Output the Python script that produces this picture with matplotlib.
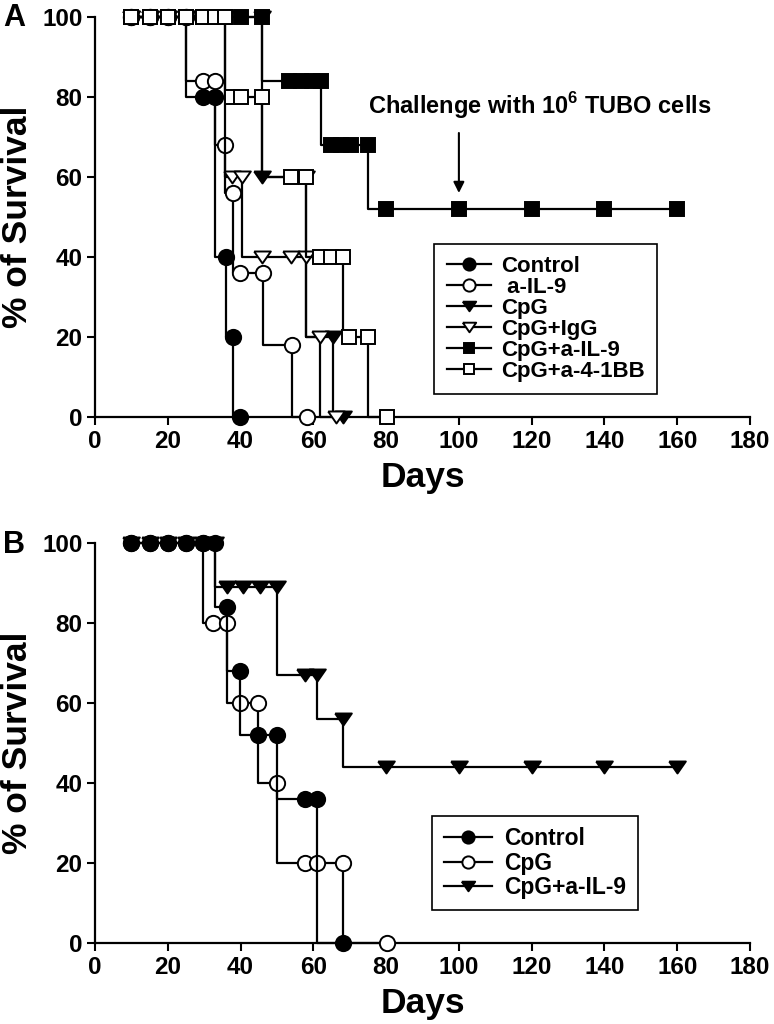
import matplotlib
matplotlib.use("Agg")
import matplotlib.pyplot as plt

plt.rcParams['font.family'] = ['Liberation Sans', 'DejaVu Sans']
plt.rcParams['font.weight'] = 'bold'
plt.rcParams['mathtext.fontset'] = 'custom'
plt.rcParams['mathtext.rm'] = 'Liberation Sans:bold'
plt.rcParams['mathtext.bf'] = 'Liberation Sans:bold'

# ---------------- Panel A data (days, % survival) ----------------
a_control_x = [10, 15, 20, 25, 29.7, 33, 36, 37.9, 39.8]
a_control_y = [100, 100, 100, 100, 80, 80, 40, 20, 0]

a_ail9_x = [10, 15, 20, 25, 29.7, 33, 35.7, 37.9, 39.8, 46.2, 54.1, 58.3]
a_ail9_y = [100, 100, 100, 100, 84, 84, 68, 56, 36, 36, 18, 0]

a_cpg_x = [10, 15, 20, 25, 29.7, 45.9, 45.9, 58.0, 65.4, 68.1]
a_cpg_y = [100, 100, 100, 100, 100, 100, 60, 60, 20, 0]

a_cpgigg_x = [10, 15, 20, 25, 29.7, 35.7, 37.6, 40.4, 45.9, 53.8, 58.0, 61.8, 66.2]
a_cpgigg_y = [100, 100, 100, 100, 100, 100, 60, 60, 40, 40, 40, 20, 0]

a_cpgail9_x = [10, 15, 20, 25, 29.7, 33, 35.7, 40.1, 45.9, 53.4, 56.5, 59.5, 62.0,
               64.8, 67.6, 70.3, 75.0, 80, 100, 120, 140, 160]
a_cpgail9_y = [100, 100, 100, 100, 100, 100, 100, 100, 100, 84, 84, 84, 84,
               68, 68, 68, 68, 52, 52, 52, 52, 52]

a_cpg41bb_x = [10, 15, 20, 25, 29.7, 33, 35.7, 37.6, 40.1, 45.9, 53.8, 58.0,
               61.8, 64.8, 68.1, 69.8, 75.0, 80.2]
a_cpg41bb_y = [100, 100, 100, 100, 100, 100, 100, 80, 80, 80, 60, 60,
               40, 40, 40, 20, 20, 0]

a_labels = ['Control', ' a-IL-9', 'CpG', 'CpG+IgG', 'CpG+a-IL-9', 'CpG+a-4-1BB']

# ---------------- Panel B data ----------------
b_control_x = [10, 15, 20, 25, 29.7, 33, 36.3, 39.8, 44.8, 50, 57.7, 61.1, 68.1]
b_control_y = [100, 100, 100, 100, 100, 100, 84, 68, 52, 52, 36, 36, 0]

b_cpg_x = [10, 15, 20, 25, 29.7, 32.4, 36.3, 39.8, 44.8, 50, 57.7, 61.1, 68.1, 80.2]
b_cpg_y = [100, 100, 100, 100, 100, 80, 80, 60, 60, 40, 20, 20, 20, 0]

b_cpgail9_x = [10, 15, 20, 25, 29.7, 33, 36.3, 40.7, 45.3, 50, 57.7, 61.1, 68.1,
               80, 100, 120, 140, 160]
b_cpgail9_y = [100, 100, 100, 100, 100, 100, 89, 89, 89, 89, 67, 67, 56,
               44, 44, 44, 44, 44]

b_labels = ['Control', 'CpG', 'CpG+a-IL-9']

x_ticks = [0, 20, 40, 60, 80, 100, 120, 140, 160, 180]
y_ticks = [0, 20, 40, 60, 80, 100]

annot_text = r'Challenge with 10$^{6}$ TUBO cells'
annot_day = 100

# ---------------- styles ----------------
tri = [(-1, 0.72), (1, 0.72), (0, -0.72), (-1, 0.72)]
LW = 1.6


def series(ax, x, y, marker, filled, ms, label, z):
    ax.plot(x, y, drawstyle='steps-pre', color='black', lw=LW,
            marker=marker, ms=ms, mfc='black' if filled else 'white',
            mec='black', mew=1.4, label=label, clip_on=False, zorder=z)


def style_axes(ax):
    ax.set_xlim(0, 180)
    ax.set_ylim(0, 100)
    ax.set_xticks(x_ticks)
    ax.set_yticks(y_ticks)
    for s in ['top', 'right']:
        ax.spines[s].set_visible(False)
    for s in ['left', 'bottom']:
        ax.spines[s].set_linewidth(1.6)
    ax.tick_params(direction='out', length=6, width=1.5, labelsize=17.5, pad=3)
    for lab in ax.get_xticklabels() + ax.get_yticklabels():
        lab.set_fontweight('bold')
    ax.set_xlabel('Days', fontsize=25.5, fontweight='bold', labelpad=6)
    ax.set_ylabel('% of Survival', fontsize=25.5, fontweight='bold', labelpad=6)


fig = plt.figure(figsize=(7.74, 10.24), dpi=100)
axA = fig.add_axes([95 / 774, (1024 - 417) / 1024, 655 / 774, 400 / 1024])
axB = fig.add_axes([95 / 774, (1024 - 943) / 1024, 655 / 774, 400 / 1024])

series(axA, a_control_x, a_control_y, 'o', True, 11, a_labels[0], 3)
series(axA, a_ail9_x, a_ail9_y, 'o', False, 11, a_labels[1], 4)
series(axA, a_cpg_x, a_cpg_y, tri, True, 12, a_labels[2], 5)
series(axA, a_cpgigg_x, a_cpgigg_y, tri, False, 12, a_labels[3], 6)
series(axA, a_cpgail9_x, a_cpgail9_y, 's', True, 9.5, a_labels[4], 7)
series(axA, a_cpg41bb_x, a_cpg41bb_y, 's', False, 9.5, a_labels[5], 8)
style_axes(axA)

axA.text(75, 77.8, annot_text, fontsize=17, fontweight='bold', ha='left', va='center')
axA.annotate('', xy=(annot_day, 56), xytext=(annot_day, 71),
             arrowprops=dict(arrowstyle='-|>', color='black', lw=1.5,
                             mutation_scale=16, shrinkA=0, shrinkB=0))

legA = axA.legend(loc='upper left', bbox_to_anchor=(0.518, 0.4325), frameon=True,
                  fancybox=False, edgecolor='black', framealpha=1,
                  prop={'weight': 'bold', 'size': 16}, handlelength=2.0,
                  handletextpad=0.45, labelspacing=0.0, borderpad=0.55,
                  borderaxespad=0, markerscale=0.8)
legA.get_frame().set_linewidth(1.2)

series(axB, b_cpg_x, b_cpg_y, 'o', False, 11, b_labels[1], 3)
series(axB, b_control_x, b_control_y, 'o', True, 11, b_labels[0], 4)
series(axB, b_cpgail9_x, b_cpgail9_y, tri, True, 12, b_labels[2], 5)
style_axes(axB)
handles, labels = axB.get_legend_handles_labels()
order = [1, 0, 2]
legB = axB.legend([handles[i] for i in order], [labels[i] for i in order],
                  loc='upper left', bbox_to_anchor=(0.515, 0.3175), frameon=True,
                  fancybox=False, edgecolor='black', framealpha=1,
                  prop={'weight': 'bold', 'size': 16.5}, handlelength=2.1,
                  handletextpad=0.55, labelspacing=0.05, borderpad=0.5,
                  borderaxespad=0, markerscale=0.8)
legB.get_frame().set_linewidth(1.2)

fig.text(3 / 774, 1 - 18 / 1024, 'A', fontsize=22, fontweight='bold', va='center', ha='left')
fig.text(3 / 774, 1 - 545 / 1024, 'B', fontsize=22, fontweight='bold', va='center', ha='left')

fig.savefig('out.png', dpi=100)
